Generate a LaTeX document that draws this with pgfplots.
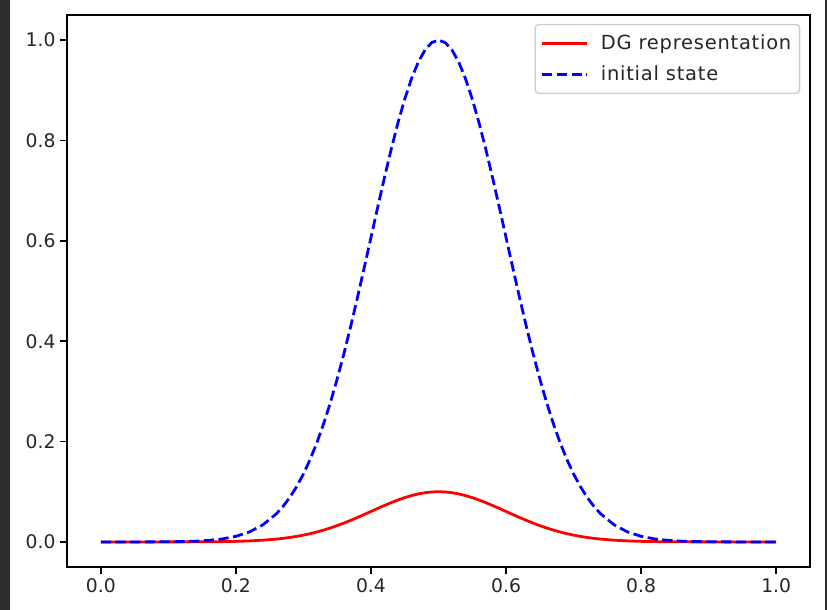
\documentclass[border=0pt]{standalone}
\usepackage{fontspec}
\setmainfont{DejaVu Sans}
\usepackage{pgfplots}
\pgfplotsset{compat=1.18}

\begin{document}
\begin{tikzpicture}
% canvas of the screenshot, 1px = 0.72pt
\useasboundingbox (0,0) rectangle (595.44pt,439.2pt);
\fill[black!82] (0,0) rectangle (7.2pt,439.2pt);
\fill[black!82] (594pt,0) rectangle (595.44pt,439.2pt);
\begin{axis}[
    at={(48.24pt,30.96pt)},
    anchor=south west,
    scale only axis,
    width=534.96pt,
    height=397.44pt,
    xmin=-0.05, xmax=1.05,
    ymin=-0.05, ymax=1.05,
    xtick={0,0.2,0.4,0.6,0.8,1.0},
    ytick={0,0.2,0.4,0.6,0.8,1.0},
    tick align=outside,
    major tick length=4.7pt,
    every tick/.style={black, line width=1.07pt},
    axis line style={line width=1.07pt},
    xtick pos=bottom, ytick pos=left,
    /pgf/number format/assume math mode=true,
    /pgf/number format/fixed,
    /pgf/number format/fixed zerofill,
    /pgf/number format/precision=1,
    tick label style={font=\fontsize{13.5}{16}\selectfont, text=black!85},
    legend style={at={(0.987,0.984)}, anchor=north east,
        draw=black!20, line width=1pt, rounded corners=2.5pt,
        font=\fontsize{14}{16}\selectfont\addfontfeatures{LetterSpace=4},
        text=black!85,
        inner xsep=4pt, inner ysep=5.6pt, row sep=6pt, column sep=7.2pt},
    legend cell align=left,
    legend image code/.code={\draw[#1] (0pt,0pt) -- (32pt,0pt);},
]
\addplot[red, line width=2pt] coordinates {
(0.00,0.00000)(0.02,0.00000)(0.04,0.00000)(0.06,0.00000)(0.08,0.00001)
(0.10,0.00003)(0.12,0.00007)(0.14,0.00015)(0.16,0.00031)(0.18,0.00060)
(0.20,0.00111)(0.22,0.00198)(0.24,0.00340)(0.26,0.00561)(0.27,0.00710)
(0.28,0.00889)(0.29,0.01103)(0.30,0.01353)(0.31,0.01645)(0.32,0.01979)
(0.33,0.02357)(0.34,0.02780)(0.35,0.03247)(0.36,0.03753)(0.37,0.04296)
(0.38,0.04868)(0.39,0.05461)(0.40,0.06065)(0.41,0.06670)(0.42,0.07261)
(0.43,0.07827)(0.44,0.08353)(0.45,0.08825)(0.46,0.09231)(0.47,0.09560)
(0.48,0.09802)(0.49,0.09950)(0.50,0.10000)(0.51,0.09950)(0.52,0.09802)
(0.53,0.09560)(0.54,0.09231)(0.55,0.08825)(0.56,0.08353)(0.57,0.07827)
(0.58,0.07261)(0.59,0.06670)(0.60,0.06065)(0.61,0.05461)(0.62,0.04868)
(0.63,0.04296)(0.64,0.03753)(0.65,0.03247)(0.66,0.02780)(0.67,0.02357)
(0.68,0.01979)(0.69,0.01645)(0.70,0.01353)(0.71,0.01103)(0.72,0.00889)
(0.73,0.00710)(0.74,0.00561)(0.76,0.00340)(0.78,0.00198)(0.80,0.00111)
(0.82,0.00060)(0.84,0.00031)(0.86,0.00015)(0.88,0.00007)(0.90,0.00003)
(0.92,0.00001)(0.94,0.00000)(0.96,0.00000)(0.98,0.00000)(1.00,0.00000)
};
\addlegendentry{DG representation}
\addplot[blue, line width=2pt, dash pattern=on 7.4pt off 3.2pt] coordinates {
(0.00,0.0000)(0.02,0.0000)(0.04,0.0000)(0.06,0.0000)(0.08,0.0001)
(0.10,0.0003)(0.12,0.0007)(0.14,0.0015)(0.16,0.0031)(0.18,0.0060)
(0.20,0.0111)(0.22,0.0198)(0.24,0.0340)(0.26,0.0561)(0.27,0.0710)
(0.28,0.0889)(0.29,0.1103)(0.30,0.1353)(0.31,0.1645)(0.32,0.1979)
(0.33,0.2357)(0.34,0.2780)(0.35,0.3247)(0.36,0.3753)(0.37,0.4296)
(0.38,0.4868)(0.39,0.5461)(0.40,0.6065)(0.41,0.6670)(0.42,0.7261)
(0.43,0.7827)(0.44,0.8353)(0.45,0.8825)(0.46,0.9231)(0.47,0.9560)
(0.48,0.9802)(0.49,0.9950)(0.50,1.0000)(0.51,0.9950)(0.52,0.9802)
(0.53,0.9560)(0.54,0.9231)(0.55,0.8825)(0.56,0.8353)(0.57,0.7827)
(0.58,0.7261)(0.59,0.6670)(0.60,0.6065)(0.61,0.5461)(0.62,0.4868)
(0.63,0.4296)(0.64,0.3753)(0.65,0.3247)(0.66,0.2780)(0.67,0.2357)
(0.68,0.1979)(0.69,0.1645)(0.70,0.1353)(0.71,0.1103)(0.72,0.0889)
(0.73,0.0710)(0.74,0.0561)(0.76,0.0340)(0.78,0.0198)(0.80,0.0111)
(0.82,0.0060)(0.84,0.0031)(0.86,0.0015)(0.88,0.0007)(0.90,0.0003)
(0.92,0.0001)(0.94,0.0000)(0.96,0.0000)(0.98,0.0000)(1.00,0.0000)
};
\addlegendentry{initial state}
\end{axis}
\end{tikzpicture}
\end{document}
